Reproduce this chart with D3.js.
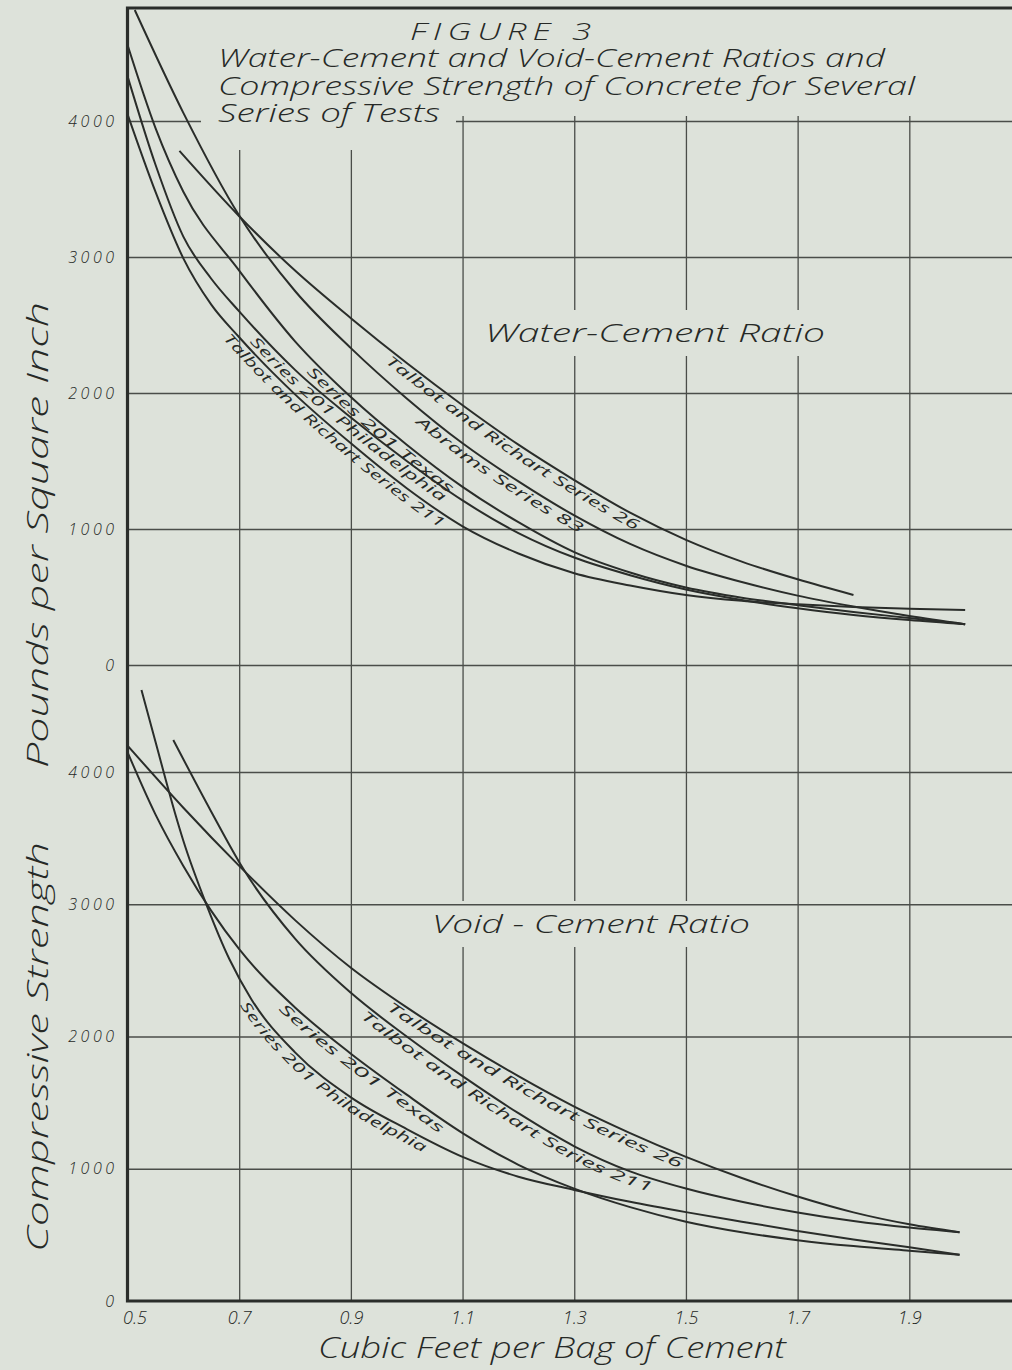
<!DOCTYPE html>
<html>
<head>
<meta charset="utf-8">
<script src="https://cdn.jsdelivr.net/npm/d3@7"></script>
<style>
    body { margin: 0; background: #dde2da; }
    svg { display: block; }
    text { font-family: 'Open Sans', 'DejaVu Sans', sans-serif; font-style: italic; font-weight: 300; fill: #262926; }
    .grid line { stroke: #4a4d49; stroke-width: 1.3; }
    .grid path { display: none; }
    .ticks path, .ticks line { display: none; }
    .ticks text { font-family: 'Open Sans', sans-serif; font-size: 16px; fill: #262926; }
    .curve { fill: none; stroke: #2a2d2a; stroke-width: 2; }
    .frame { fill: none; stroke: #2a2d2a; stroke-width: 3.2; }
    .clabel { font-size: 14px; font-weight: 400; }
</style>
</head>
<body>
<svg width="1012" height="1370"></svg>
<script>
// x = cubic feet per bag of cement, y = compressive strength (lb per sq in)
const xGridTicks = [0.7, 0.9, 1.1, 1.3, 1.5, 1.7, 1.9, 2.1];
const xLabelTicks = [0.5, 0.7, 0.9, 1.1, 1.3, 1.5, 1.7, 1.9];
const yTickValues = [0, 1000, 2000, 3000, 4000];

// Water-Cement Ratio (upper chart)
const waterTalbot26 = [[0.593, 3780], [0.7, 3300], [0.8, 2900], [0.9, 2550], [1.0, 2220], [1.1, 1910], [1.2, 1620], [1.3, 1360], [1.4, 1120], [1.5, 920], [1.6, 760], [1.7, 630], [1.8, 515]];
const waterAbrams83 = [[0.513, 4816], [0.6, 4060], [0.7, 3305], [0.8, 2750], [0.9, 2330], [1.0, 1960], [1.1, 1630], [1.2, 1350], [1.3, 1100], [1.4, 890], [1.5, 730], [1.6, 610], [1.7, 510], [1.8, 430], [1.9, 360], [2.0, 300]];
const waterTexas = [[0.5, 4560], [0.55, 3950], [0.6, 3480], [0.7, 2900], [0.8, 2380], [0.9, 1970], [1.0, 1620], [1.1, 1310], [1.2, 1050], [1.3, 830], [1.4, 680], [1.5, 570], [1.6, 495], [1.7, 440], [1.8, 390], [1.9, 345], [2.0, 300]];
const waterPhiladelphia = [[0.5, 4330], [0.55, 3680], [0.6, 3150], [0.65, 2840], [0.7, 2600], [0.8, 2170], [0.9, 1820], [1.0, 1500], [1.1, 1210], [1.2, 970], [1.3, 790], [1.4, 660], [1.5, 555], [1.6, 478], [1.7, 418], [1.8, 368], [1.9, 330], [2.0, 300]];
const waterTalbot211 = [[0.5, 4050], [0.55, 3480], [0.6, 2990], [0.65, 2650], [0.7, 2410], [0.8, 1990], [0.9, 1630], [1.0, 1300], [1.1, 1020], [1.2, 820], [1.3, 675], [1.4, 585], [1.5, 515], [1.6, 472], [1.7, 446], [1.8, 427], [1.9, 413], [2.0, 404]];

// Void-Cement Ratio (lower chart)
const voidTalbot26 = [[0.5, 4200], [0.6, 3730], [0.7, 3290], [0.8, 2880], [0.9, 2520], [1.0, 2220], [1.1, 1950], [1.2, 1700], [1.3, 1470], [1.4, 1270], [1.5, 1090], [1.6, 930], [1.7, 790], [1.8, 670], [1.9, 580], [1.99, 520]];
const voidTalbot211 = [[0.582, 4242], [0.65, 3700], [0.707, 3270], [0.8, 2740], [0.9, 2330], [1.0, 2000], [1.1, 1700], [1.2, 1420], [1.3, 1170], [1.4, 980], [1.5, 850], [1.6, 750], [1.7, 670], [1.8, 605], [1.9, 555], [1.99, 520]];
const voidTexas = [[0.5, 4150], [0.55, 3680], [0.6, 3290], [0.65, 2950], [0.7, 2660], [0.8, 2220], [0.9, 1870], [1.0, 1560], [1.1, 1270], [1.2, 1030], [1.3, 850], [1.4, 710], [1.5, 600], [1.6, 520], [1.7, 460], [1.8, 415], [1.9, 380], [1.99, 350]];
const voidPhiladelphia = [[0.525, 4620], [0.55, 4230], [0.585, 3690], [0.6, 3480], [0.642, 2990], [0.683, 2580], [0.722, 2280], [0.8, 1880], [0.9, 1540], [1.0, 1300], [1.1, 1090], [1.2, 940], [1.3, 840], [1.4, 750], [1.5, 672], [1.6, 600], [1.7, 530], [1.8, 465], [1.9, 406], [1.99, 350]];

const waterSeries = [
    { id: 'w26', name: 'Talbot and Richart Series 26', values: waterTalbot26, labelAt: 0.975, labelLen: 300 },
    { id: 'w83', name: 'Abrams Series 83', values: waterAbrams83, labelAt: 1.03, labelLen: 196 },
    { id: 'wtx', name: 'Series 201 Texas', values: waterTexas, labelAt: 0.835, labelLen: 186 },
    { id: 'wph', name: 'Series 201 Philadelphia', values: waterPhiladelphia, labelAt: 0.735, labelLen: 248 },
    { id: 'w211', name: 'Talbot and Richart Series 211', values: waterTalbot211, labelAt: 0.688, labelLen: 286 }
];
const voidSeries = [
    { id: 'v26', name: 'Talbot and Richart Series 26', values: voidTalbot26, labelAt: 0.975, labelLen: 332 },
    { id: 'v211', name: 'Talbot and Richart Series 211', values: voidTalbot211, labelAt: 0.93, labelLen: 336 },
    { id: 'vtx', name: 'Series 201 Texas', values: voidTexas, labelAt: 0.785, labelLen: 202 },
    { id: 'vph', name: 'Series 201 Philadelphia', values: voidPhiladelphia, labelAt: 0.72, labelLen: 232 }
];

const svg = d3.select('svg');
const plotLeft = 127.5;
const plotRight = 1021;
const plotTop = 8;
const plotBottom = 1301;

svg.append('rect').attr('width', 1012).attr('height', 1370).attr('fill', '#dde2da');

const xScale = d3.scaleLinear().domain([0.5, 2.1]).range([plotLeft, plotRight]);
const yTop = d3.scaleLinear().domain([0, 4000]).range([665, 121]);
const yBottom = d3.scaleLinear().domain([0, 4000]).range([plotBottom, 772]);

// vertical grid
svg.append('g')
    .attr('class', 'grid')
    .attr('transform', `translate(0, ${plotBottom})`)
    .call(d3.axisBottom(xScale).tickValues(xGridTicks).tickSize(-(plotBottom - 116)).tickFormat(''));

const masks = svg.append('g');

// horizontal grid, both panels
svg.append('g')
    .attr('class', 'grid')
    .attr('transform', `translate(${plotLeft}, 0)`)
    .call(d3.axisLeft(yTop).tickValues(yTickValues).tickSize(-(plotRight - plotLeft)).tickFormat(''));
svg.append('g')
    .attr('class', 'grid')
    .attr('transform', `translate(${plotLeft}, 0)`)
    .call(d3.axisLeft(yBottom).tickValues(yTickValues.slice(1)).tickSize(-(plotRight - plotLeft)).tickFormat(''));

// blank paper behind the title block
svg.append('rect')
    .attr('x', 201).attr('y', plotTop + 2).attr('width', 255).attr('height', 140)
    .attr('fill', '#dde2da');

// frame
svg.append('path')
    .attr('class', 'frame')
    .attr('d', `M${plotRight + 5},${plotTop}H${plotLeft}V${plotBottom}H${plotRight + 5}`);

const labels = svg.append('g');

// tick labels
[yTop, yBottom].forEach((y) => {
    svg.append('g')
        .attr('class', 'ticks')
        .attr('transform', `translate(${plotLeft}, 0)`)
        .call(d3.axisLeft(y).tickValues(yTickValues).tickSize(0).tickPadding(10).tickFormat(d3.format('d')))
        .selectAll('text')
        .attr('letter-spacing', 3.5);
});
const xTicks = svg.append('g')
    .attr('class', 'ticks')
    .attr('transform', `translate(0, ${plotBottom})`)
    .call(d3.axisBottom(xScale).tickValues(xLabelTicks).tickSize(0).tickPadding(10).tickFormat(d3.format('.1f')));
xTicks.selectAll('text').style('font-size', '18px');
xTicks.selectAll('text').filter((d) => d === 0.5).attr('dx', 7);

// curves
svg.append('clipPath').attr('id', 'plot')
    .append('rect').attr('x', plotLeft).attr('y', plotTop).attr('width', plotRight - plotLeft).attr('height', plotBottom - plotTop);

const drawPanel = (series, yScale) => {
    const line = d3.line()
        .x((d) => xScale(d[0]))
        .y((d) => yScale(d[1]))
        .curve(d3.curveMonotoneX);
    const g = svg.append('g').attr('clip-path', 'url(#plot)');
    series.forEach((s) => {
        const path = g.append('path')
            .attr('id', s.id)
            .attr('class', 'curve')
            .attr('d', line(s.values));
        // label runs along the curve, just under it
        const node = path.node();
        const total = node.getTotalLength();
        const startX = xScale(s.labelAt);
        let offset = 0;
        for (let l = 0; l <= total; l += 1) {
            if (node.getPointAtLength(l).x >= startX) { offset = l; break; }
        }
        svg.append('text')
            .attr('class', 'clabel')
            .attr('dy', 13)
            .append('textPath')
            .attr('href', '#' + s.id)
            .attr('startOffset', offset)
            .attr('textLength', s.labelLen)
            .attr('lengthAdjust', 'spacingAndGlyphs')
            .text(s.name);
    });
};
drawPanel(waterSeries, yTop);
drawPanel(voidSeries, yBottom);

// titles and panel labels
const addText = (x, y, size, len, str) => labels.append('text')
    .attr('x', x).attr('y', y)
    .attr('font-size', size)
    .attr('textLength', len)
    .attr('lengthAdjust', 'spacingAndGlyphs')
    .text(str);

addText(410, 40, 23, 187, 'FIGURE 3').attr('letter-spacing', 4);
addText(218, 67, 25, 667, 'Water-Cement and Void-Cement Ratios and');
addText(218, 95, 25, 697, 'Compressive Strength of Concrete for Several');
addText(218, 122, 25, 222, 'Series of Tests');

// paper gaps in the grid behind the two chart labels
[addText(485, 342, 26, 340, 'Water-Cement Ratio'), addText(432, 933, 26, 318, 'Void - Cement Ratio')]
    .forEach((t) => {
        const b = t.node().getBBox();
        masks.append('rect')
            .attr('x', b.x - 6).attr('y', b.y - 4)
            .attr('width', b.width + 12).attr('height', b.height + 10)
            .attr('fill', '#dde2da');
    });

addText(318, 1358, 29, 468, 'Cubic Feet per Bag of Cement');

labels.append('text')
    .attr('transform', 'translate(48, 1047) rotate(-90)')
    .attr('text-anchor', 'middle')
    .attr('font-size', 29)
    .attr('textLength', 410)
    .attr('lengthAdjust', 'spacingAndGlyphs')
    .text('Compressive Strength');
labels.append('text')
    .attr('transform', 'translate(48, 535) rotate(-90)')
    .attr('text-anchor', 'middle')
    .attr('font-size', 29)
    .attr('textLength', 466)
    .attr('lengthAdjust', 'spacingAndGlyphs')
    .text('Pounds per Square Inch');
</script>
</body>
</html>
